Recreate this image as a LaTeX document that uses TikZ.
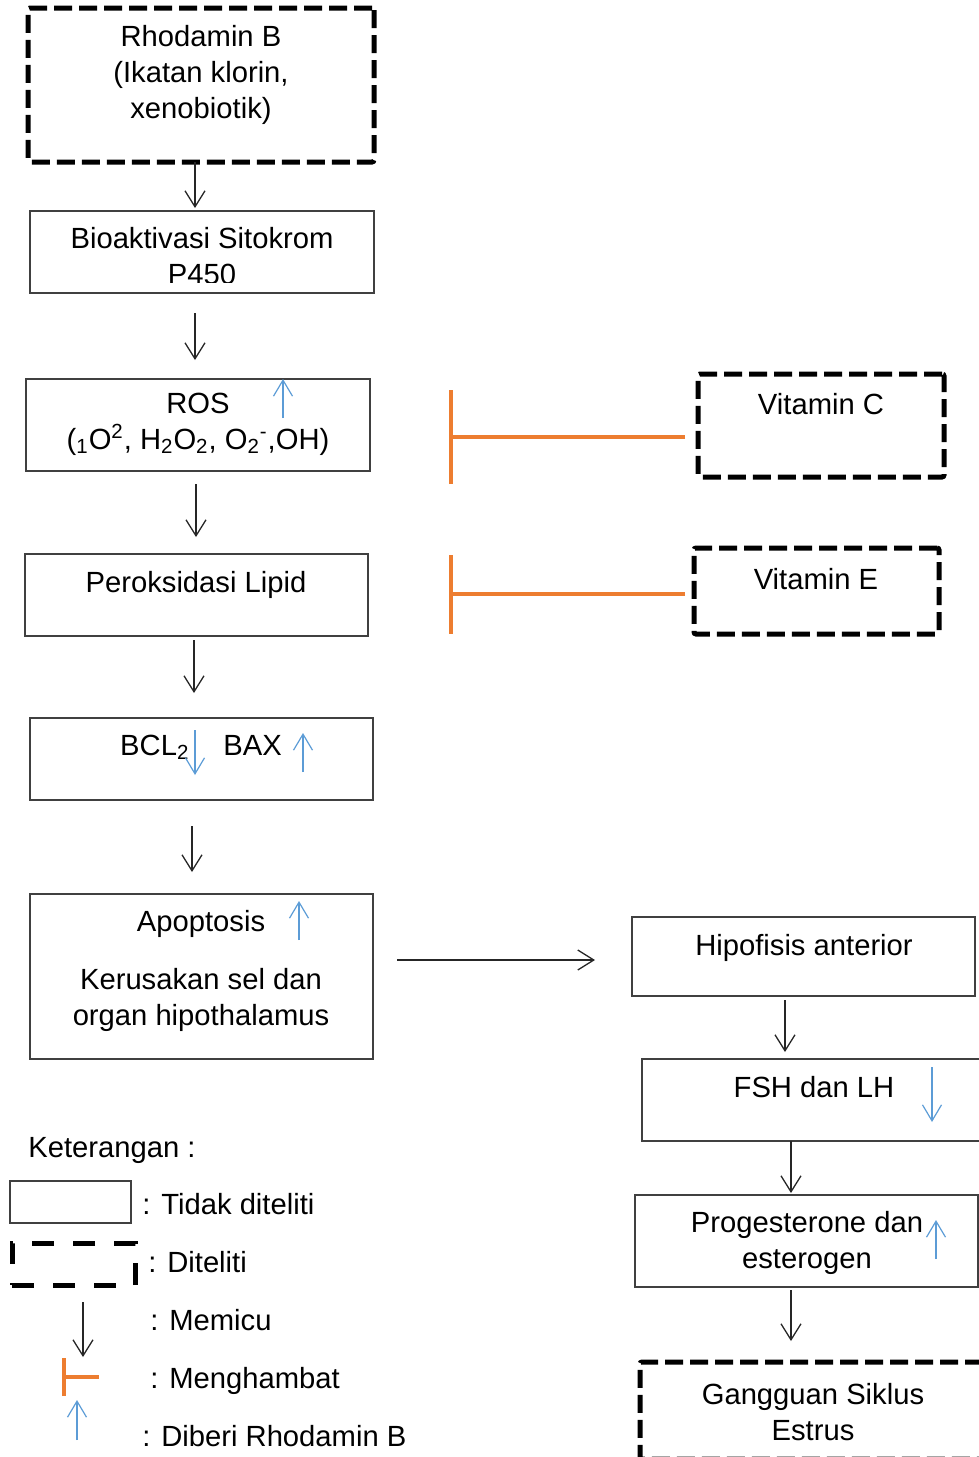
\documentclass[tikz,border=0pt]{standalone}
\usepackage{fontspec}
\setmainfont{Liberation Sans}
\usetikzlibrary{arrows.meta}
\definecolor{ed7d31}{rgb}{0.93,0.49,0.19}
\definecolor{5b9bd5}{rgb}{0.36,0.61,0.84}
\definecolor{404040}{rgb}{0.25,0.25,0.25}

\begin{document}
\begin{tikzpicture}[x=0.5pt,y=-0.5pt,
		kotak/.style={draw=404040,line width=0.75pt,inner sep=0pt,outer sep=0pt,anchor=north west},
		diteliti/.style={draw=black,line width=2.5pt,dash pattern=on 9pt off 3.5pt,rounded corners=1pt,inner sep=0pt,outer sep=0pt,anchor=north west},
		teks/.style={inner sep=0pt,align=center,font=\fontsize{14.6}{18}\selectfont},
		memicu/.style={color=black!85,line width=0.65pt,-{Straight Barb[length=8pt,width=10pt]}},
		efek/.style={color=5b9bd5,line width=0.6pt,-{Straight Barb[length=8pt,width=9.5pt]}},
		hambat/.style={color=ed7d31,line width=2pt,-{Bar[width=#1]}}]
			\useasboundingbox (0,0) rectangle (979,1457);
			\node[diteliti,minimum width=173pt,minimum height=77pt] (rhod) at (28,8) {};
			\node[kotak,minimum width=172pt,minimum height=41pt] (bio) at (30,211) {};
			\node[kotak,minimum width=172pt,minimum height=46pt] (ros) at (26,379) {};
			\node[kotak,minimum width=171.5pt,minimum height=41pt] (perox) at (25,554) {};
			\node[kotak,minimum width=171.5pt,minimum height=41pt] (bcl) at (30,718) {};
			\node[kotak,minimum width=171.5pt,minimum height=82.5pt] (apop) at (30,894) {};
			\node[kotak,minimum width=171.5pt,minimum height=39.5pt] (hip) at (632,917) {};
			\node[kotak,minimum width=171.5pt,minimum height=41pt] (fsh) at (642,1059) {};
			\node[kotak,minimum width=171.5pt,minimum height=46pt] (prog) at (635,1195) {};
			\node[diteliti,minimum width=172.5pt,minimum height=48.5pt] (gang) at (640,1362) {};
			\node[diteliti,minimum width=123pt,minimum height=51.5pt] (vitc) at (698,374) {};
			\node[diteliti,minimum width=122.5pt,minimum height=43pt] (vite) at (694,548) {};

			\node[teks] (rhod-t) at (201,75) {Rhodamin B\\(Ikatan klorin,\\xenobiotik)};
			\begin{scope}
				\clip (30,211) rectangle (374,282);
				\node[teks] (bio-t) at (202,256) {Bioaktivasi Sitokrom\\P450};
			\end{scope}
			\node[teks] (ros-t) at (198,424) {ROS\\(\textsubscript{1}O\textsuperscript{2}, H\textsubscript{2}O\textsubscript{2}, O\textsubscript{2}\textsuperscript{-},OH)};
			\node[teks] (perox-t) at (196,585) {Peroksidasi Lipid};
			\node[teks] (bcl-t) at (201,747) {BCL\textsubscript{2}\hspace{17pt}BAX};
			\node[teks] (apop-t) at (201,971) {Apoptosis\\[11pt]Kerusakan sel dan\\organ hipothalamus};
			\node[teks] (hip-t) at (804,948) {Hipofisis anterior};
			\node[teks] (fsh-t) at (814,1087) {FSH dan LH};
			\node[teks] (prog-t) at (807,1243) {Progesterone dan\\esterogen};
			\node[teks] (gang-t) at (813,1412) {Gangguan Siklus\\Estrus};
			\node[teks] (vitc-t) at (821,404) {Vitamin C};
			\node[teks] (vite-t) at (816,579) {Vitamin E};

			\draw[memicu,shorten >=1.5pt] ([xshift=-3pt]rhod.south) -- ([xshift=-3.5pt]bio.north);
			\draw[memicu,shorten <=10pt,shorten >=9.5pt] ([xshift=-3.5pt]bio.south) -- ([xshift=-1.5pt]ros.north);
			\draw[memicu,shorten <=6.5pt,shorten >=8.5pt] ([xshift=-1pt]ros.south) -- ([xshift=-0.25pt]perox.north);
			\draw[memicu,shorten <=2pt,shorten >=12.5pt] ([xshift=-1.25pt]perox.south) -- ([xshift=-3.75pt]bcl.north);
			\draw[memicu,shorten <=13pt,shorten >=11pt] ([xshift=-4.75pt]bcl.south) -- ([xshift=-4.75pt]apop.north);
			\draw[memicu,shorten <=12pt,shorten >=18.5pt] ([yshift=8.25pt]apop.east) -- ([yshift=-1.75pt]hip.west);
			\draw[memicu,shorten <=2pt,shorten >=3.5pt] ([xshift=-9.25pt]hip.south) -- ([xshift=-14.25pt]fsh.north);
			\draw[memicu,shorten >=1pt] ([xshift=-11.25pt]fsh.south) -- ([xshift=-7.75pt]prog.north);
			\draw[memicu,shorten <=1.5pt,shorten >=10.5pt] ([xshift=-7.75pt]prog.south) -- ([xshift=-10.75pt]gang.north);

			\coordinate (tahan-c) at (449,437);
			\coordinate (tahan-e) at (449,594);
			\draw[hambat=47pt,shorten <=6.5pt] ([yshift=-5.75pt]vitc.west) -- (tahan-c);
			\draw[hambat=39.5pt,shorten <=4.5pt] ([yshift=-1.5pt]vite.west) -- (tahan-e);

			\draw[efek] (283,418) -- (283,379);
			\draw[efek] (195,730) -- (195,775);
			\draw[efek] (303,772) -- (303,733);
			\draw[efek] (299,940) -- (299,901);
			\draw[efek] (932,1067) -- (932,1122);
			\draw[efek] (936,1259) -- (936,1220);

			\node[teks,anchor=west] (ket) at (28,1150) {Keterangan :};
			\node[kotak,minimum width=60.5pt,minimum height=21pt] (leg-a) at (10,1181) {};
			\node[diteliti,dash pattern=on 11pt off 9.5pt,rounded corners=0pt,minimum width=61.5pt,minimum height=21pt] (leg-b) at (12,1243) {};
			\draw[memicu] (83,1302) -- (83,1357);
			\draw[hambat=19pt] (99,1377) -- (62,1377);
			\draw[efek] (77,1440) -- (77,1400);
			\node[teks,anchor=west] (leg-a-t) at (142,1204) {: Tidak diteliti};
			\node[teks,anchor=west] (leg-b-t) at (148,1262) {: Diteliti};
			\node[teks,anchor=west] (leg-c-t) at (150,1320) {: Memicu};
			\node[teks,anchor=west] (leg-d-t) at (150,1381) {: Menghambat};
			\node[teks,anchor=west] (leg-e-t) at (142,1436) {: Diberi Rhodamin B};
		\end{tikzpicture}
\end{document}
